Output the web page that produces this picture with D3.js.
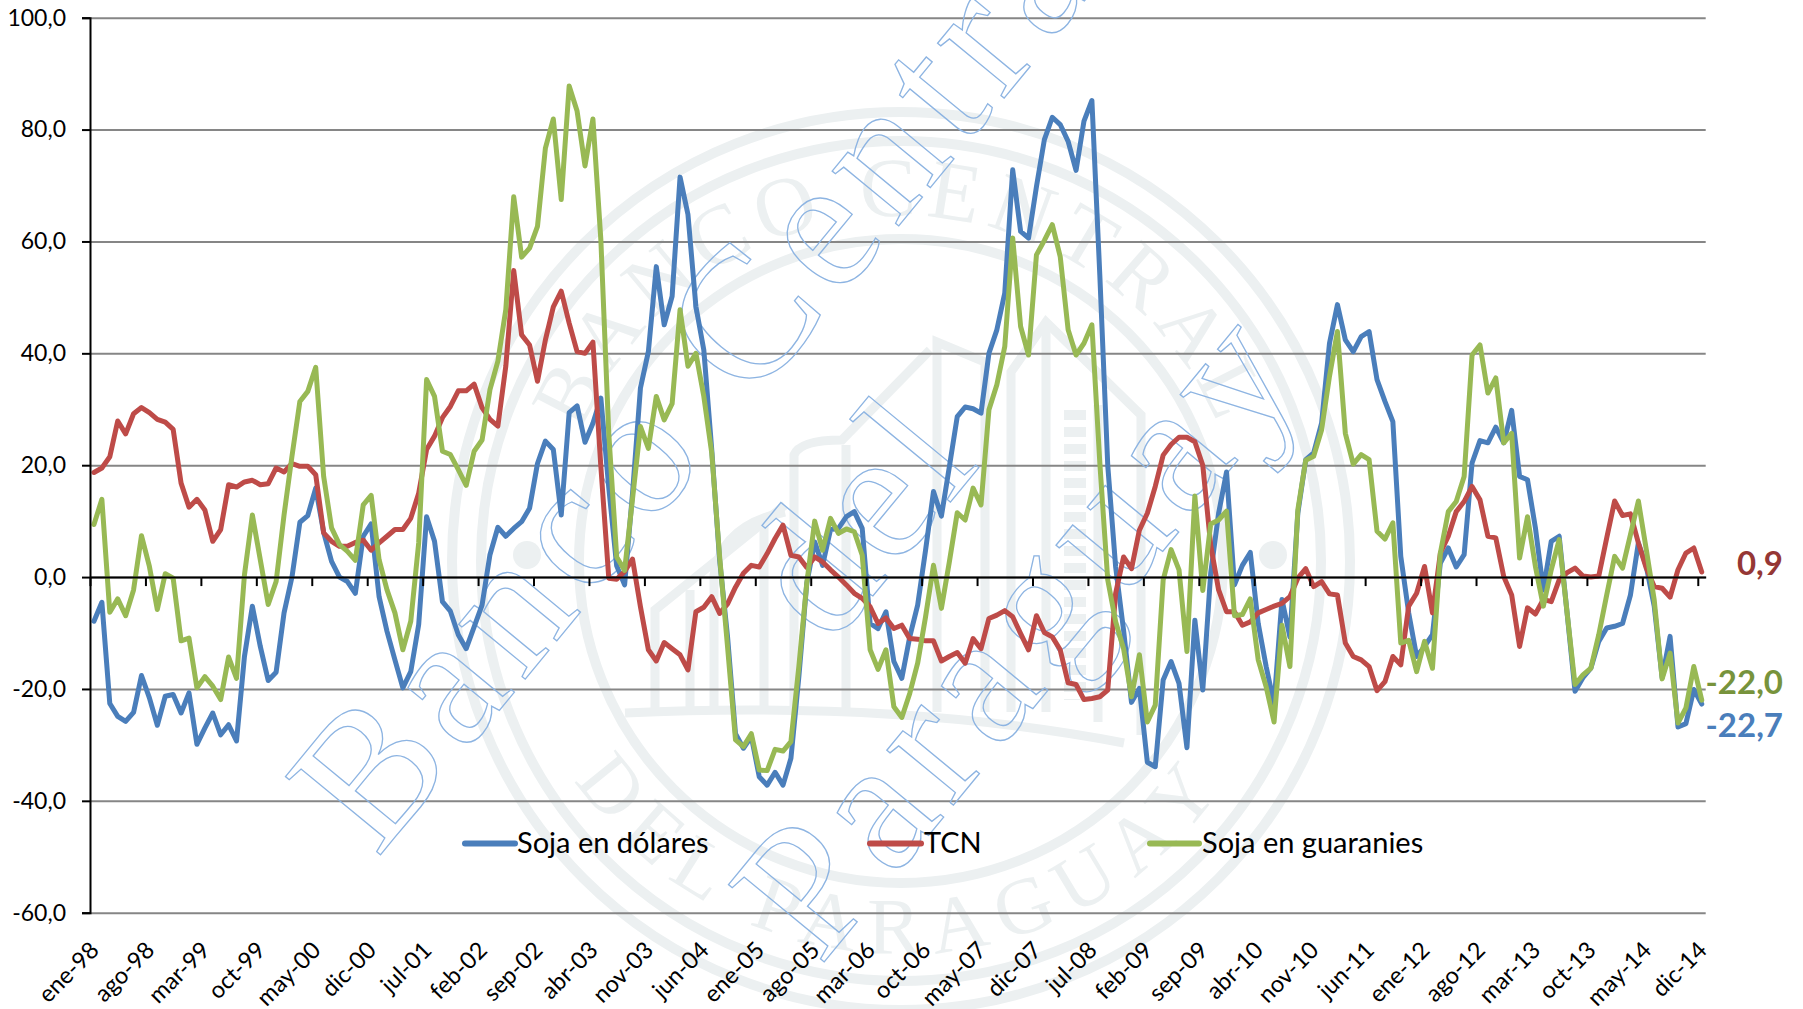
<!DOCTYPE html>
<html>
<head>
<meta charset="utf-8">
<script src="https://cdn.jsdelivr.net/npm/d3@7"></script>
<style>
  html, body { margin: 0; padding: 0; background: #fff; }
  svg { display: block; }
</style>
</head>
<body>
<div id="chart"></div>
<script>
const sojaDolares = [
  -7.9,-4.5,-22.6,-24.9,-25.8,-24.2,-17.6,-21.6,-26.5,-21.3,
  -21.0,-24.3,-20.7,-29.9,-27.0,-24.3,-28.2,-26.4,-29.3,-14.2,
  -5.2,-12.4,-18.5,-17.0,-6.4,0.0,9.8,11.0,15.9,8.0,
  2.8,0.0,-0.8,-2.9,7.3,9.5,-3.5,-9.7,-14.8,-19.8,
  -16.9,-8.5,10.8,6.4,-4.4,-6.1,-10.3,-12.8,-8.9,-5.0,
  4.0,8.9,7.3,8.7,9.9,12.3,20.3,24.3,22.8,11.1,
  29.4,30.6,24.1,27.5,32.0,16.0,2.0,-1.4,15.0,33.8,
  40.3,55.5,45.1,50.2,71.5,64.8,48.4,40.6,22.8,3.0,
  -10.7,-28.0,-30.6,-28.5,-35.7,-37.2,-34.9,-37.2,-32.4,-17.8,
  -1.1,6.3,2.1,8.5,8.7,10.8,11.7,8.7,-8.3,-9.2,
  -6.2,-15.1,-18.1,-10.7,-5.0,4.8,15.3,10.9,19.7,28.7,
  30.4,30.1,29.3,40.0,44.2,50.8,72.8,61.8,60.6,69.8,
  78.2,82.2,80.9,77.9,72.7,81.5,85.2,54.0,20.0,1.8,
  -9.5,-22.4,-19.9,-33.1,-33.9,-18.4,-15.1,-19.0,-30.5,-7.7,
  -20.2,0.7,11.4,18.8,-1.4,2.1,4.4,-8.3,-16.0,-22.6,
  -4.0,-10.7,11.4,21.0,22.2,27.5,41.8,48.7,42.4,40.3,
  43.0,43.9,35.3,31.4,27.8,3.7,-6.4,-14.2,-12.4,-10.3,
  2.5,5.2,1.8,4.0,20.4,24.4,24.0,26.8,24.0,29.8,
  18.0,17.4,8.8,-2.3,6.4,7.3,-6.4,-20.4,-18.0,-16.3,
  -11.5,-9.1,-8.8,-8.3,-3.2,6.1,1.9,-5.2,-18.0,-10.6,
  -26.8,-26.2,-20.1,-22.7
];

const tcn = [
  18.7,19.5,21.5,27.9,25.6,29.2,30.3,29.4,28.2,27.7,
  26.4,16.8,12.5,13.9,12.0,6.4,8.5,16.5,16.1,17.0,
  17.3,16.5,16.7,19.5,18.8,20.3,19.8,19.8,18.3,7.9,
  6.4,5.5,5.5,6.2,6.6,4.8,6.1,7.3,8.5,8.5,
  10.5,15.0,22.8,25.2,28.5,30.5,33.3,33.3,34.5,30.3,
  28.2,27.0,37.7,54.8,43.3,41.5,35.0,42.4,48.3,51.1,
  45.4,40.3,40.0,42.0,19.8,-0.2,-0.4,1.0,3.2,-5.3,
  -13.0,-15.0,-11.7,-12.8,-13.9,-16.6,-6.2,-5.4,-3.5,-6.5,
  -4.8,-1.8,0.7,2.1,1.8,4.2,6.9,9.3,3.9,3.6,
  1.7,3.6,2.7,1.3,0.0,-1.4,-2.9,-3.8,-5.3,-8.3,
  -7.3,-9.2,-8.6,-11.0,-11.1,-11.4,-11.4,-15.0,-14.2,-13.5,
  -15.4,-11.0,-12.8,-7.4,-6.8,-6.0,-7.1,-10.1,-13.0,-6.9,
  -9.9,-10.7,-13.0,-18.9,-19.2,-21.9,-21.7,-21.4,-20.2,-2.9,
  3.6,1.5,8.4,11.4,16.2,21.8,23.7,25.0,25.0,24.2,
  20.0,5.7,-2.3,-6.2,-6.2,-8.6,-8.0,-6.4,-5.8,-5.2,
  -4.7,-3.5,-0.2,1.5,-1.7,-0.8,-3.0,-3.2,-11.8,-14.2,
  -14.8,-16.0,-20.3,-18.7,-14.2,-15.7,-5.2,-2.9,1.9,-6.4,
  4.3,7.3,11.7,13.5,16.2,13.8,7.3,7.0,0.1,-3.2,
  -12.4,-5.5,-6.6,-4.0,-4.4,-0.5,0.8,1.6,0.2,0.0,
  0.2,7.0,13.6,11.0,11.3,6.1,1.6,-1.7,-2.0,-3.6,
  1.3,4.3,5.2,0.9
];

const sojaGuaranies = [
  9.4,13.9,-6.3,-3.9,-6.9,-2.3,7.4,1.9,-5.8,0.6,
  -0.2,-11.4,-10.9,-19.8,-17.8,-19.5,-21.9,-14.3,-18.1,0.4,
  11.1,3.1,-4.9,-0.8,11.1,21.6,31.4,33.2,37.5,18.0,
  8.8,5.8,4.6,3.0,12.9,14.6,3.1,-2.3,-6.4,-13.0,
  -7.9,6.1,35.3,32.3,22.5,21.9,19.2,16.4,22.5,24.5,
  33.5,38.6,47.8,68.0,57.2,58.8,62.7,76.7,81.9,67.5,
  87.8,83.3,73.5,81.9,60.3,25.7,3.6,1.2,14.0,26.9,
  23.0,32.3,28.1,31.0,47.8,37.7,40.0,32.3,22.2,3.6,
  -12.5,-29.1,-30.3,-28.0,-34.5,-34.6,-30.8,-31.1,-29.4,-16.0,
  -1.1,10.0,4.8,10.5,7.8,8.6,8.1,3.9,-13.0,-16.5,
  -13.0,-23.2,-25.1,-20.8,-15.4,-7.1,2.1,-5.6,2.7,11.5,
  10.2,15.9,12.9,29.9,34.4,41.2,60.6,44.8,39.7,57.6,
  60.2,63.0,57.3,44.2,39.7,41.8,45.1,20.4,-0.5,-8.0,
  -12.8,-21.4,-13.9,-25.9,-22.9,-0.5,4.9,1.3,-13.3,14.5,
  -2.4,9.5,10.2,11.8,-6.9,-6.7,-3.9,-14.8,-19.6,-25.9,
  -8.6,-16.0,12.0,20.9,21.6,26.3,35.9,43.9,25.7,20.2,
  21.9,21.0,8.2,6.8,9.7,-11.8,-11.3,-16.9,-11.5,-16.3,
  4.3,11.7,13.5,18.0,39.7,41.5,32.9,35.6,24.0,25.7,
  3.4,10.8,1.9,-5.2,1.3,6.7,-6.4,-19.2,-17.5,-16.3,
  -10.3,-3.2,3.7,1.6,7.6,13.6,4.9,-4.1,-18.2,-13.6,
  -26.1,-23.4,-16.0,-22.0
];

// One label every 7 months
const tickLabels = [
  'ene-98','ago-98','mar-99','oct-99','may-00','dic-00','jul-01','feb-02','sep-02','abr-03',
  'nov-03','jun-04','ene-05','ago-05','mar-06','oct-06','may-07','dic-07','jul-08','feb-09',
  'sep-09','abr-10','nov-10','jun-11','ene-12','ago-12','mar-13','oct-13','may-14','dic-14'
];
const yTicks = [-60, -40, -20, 0, 20, 40, 60, 80, 100];

const seriesNames = ['Soja en dólares', 'TCN', 'Soja en guaranies'];
const seriesColors = ['#4a7ebb', '#be4b48', '#98b954'];
const endLabels = ['-22,7', '0,9', '-22,0'];
const endColors = ['#4a7ebb', '#953735', '#77933c'];

const font = 'Lato, "Open Sans", sans-serif';
const width = 1803;
const height = 1009;
const margin = { top: 17.7, right: 97.3, bottom: 96.3, left: 90 };

const svg = d3.select('#chart')
  .append('svg')
  .attr('width', width)
  .attr('height', height)
  .style('background', '#fff');

// x runs over month slots, a point sits in the middle of its slot
const xScale = d3.scaleLinear()
  .domain([0, sojaDolares.length])
  .range([margin.left, width - margin.right]);

const yScale = d3.scaleLinear()
  .domain([-60, 100])
  .range([height - margin.bottom, margin.top]);

// Seal watermark behind the chart
const sealX = 901, sealY = 561;
const sealColor = '#ecf0f1';
const seal = svg.append('g').attr('fill', 'none').attr('stroke', sealColor);

[[449, 10], [420, 10], [322, 10]].forEach(d => {
  seal.append('circle')
    .attr('cx', sealX).attr('cy', sealY)
    .attr('r', d[0]).attr('stroke-width', d[1]);
});

[
  'M655,712 V610 L785,505',
  'M714,712 V575 Q722,525 785,512',
  'M794,712 V455 Q800,440 842,440 L930,350',
  'M846,712 V445',
  'M937,712 V342 L985,362 V712',
  'M1011,712 V372 L1046,322 L1141,415 V735',
  'M1046,712 V322',
  'M1098,722 V405',
  'M764,712 V520',
  'M690,712 V590',
  'M625,713 Q900,700 1124,743'
].forEach(d => {
  seal.append('path').attr('d', d).attr('stroke-width', 9);
});

seal.append('path')
  .attr('d', 'M1075,410 V700')
  .attr('stroke-width', 22)
  .attr('stroke-dasharray', '10 7');

[[527, 555], [1273, 555]].forEach(d => {
  svg.append('circle')
    .attr('cx', d[0]).attr('cy', d[1]).attr('r', 14)
    .attr('fill', sealColor);
});

const defs = svg.append('defs');
defs.append('path').attr('id', 'arcTop')
  .attr('d', `M${sealX - 345},${sealY} A345,345 0 0 1 ${sealX + 345},${sealY}`);
defs.append('path').attr('id', 'arcBottom')
  .attr('d', `M${sealX - 393},${sealY} A393,393 0 0 0 ${sealX + 393},${sealY}`);

[['#arcTop', 'BANCO CENTRAL', 84, 9], ['#arcBottom', 'DEL PARAGUAY', 80, 14]].forEach(d => {
  svg.append('text')
    .attr('font-family', '"Liberation Serif", serif')
    .attr('font-size', d[2])
    .attr('letter-spacing', d[3])
    .attr('fill', sealColor)
    .append('textPath')
    .attr('href', d[0])
    .attr('startOffset', '50%')
    .attr('text-anchor', 'middle')
    .text(d[1]);
});

// Gridlines
const grid = svg.append('g')
  .attr('transform', `translate(${margin.left},0)`)
  .call(d3.axisLeft(yScale)
    .tickValues(yTicks)
    .tickSize(-(width - margin.left - margin.right))
    .tickFormat(''));
grid.select('.domain').remove();
grid.selectAll('line').attr('stroke', '#868686').attr('stroke-width', 2);

// Outlined diagonal watermark text
[
  ['Banco Central', 377, 859, 10],
  ['del', 830, 648, 4],
  ['Paraguay', 820, 967, 9]
].forEach(d => {
  svg.append('text')
    .attr('transform', `translate(${d[1]},${d[2]}) rotate(-50.5)`)
    .attr('font-family', '"Liberation Serif", serif')
    .attr('font-size', 188)
    .attr('letter-spacing', d[3])
    .attr('fill', 'none')
    .attr('stroke', '#8db4e2')
    .attr('stroke-width', 1.3)
    .text(d[0]);
});

// Draw lines
const line = d3.line()
  .x((d, i) => xScale(i + 0.5))
  .y(d => yScale(d));

[sojaDolares, tcn, sojaGuaranies].forEach((values, s) => {
  svg.append('path')
    .datum(values)
    .attr('fill', 'none')
    .attr('stroke', seriesColors[s])
    .attr('stroke-width', 5)
    .attr('stroke-linejoin', 'round')
    .attr('stroke-linecap', 'round')
    .attr('d', line);
});

// Add axes
const yAxis = svg.append('g')
  .attr('transform', `translate(${margin.left},0)`)
  .call(d3.axisLeft(yScale)
    .tickValues(yTicks)
    .tickSize(8)
    .tickPadding(16)
    .tickFormat(d => d3.format('.1f')(d).replace('.', ',').replace('−', '-')));
yAxis.select('.domain').attr('stroke', '#000').attr('stroke-width', 2);
yAxis.selectAll('line').attr('stroke', '#000').attr('stroke-width', 2);
yAxis.selectAll('text')
  .attr('font-family', font)
  .attr('font-size', 23)
  .attr('fill', '#000');

const xAxis = svg.append('g')
  .attr('transform', `translate(0,${yScale(0)})`)
  .call(d3.axisBottom(xScale)
    .tickValues(tickLabels.map((d, i) => i * 7))
    .tickSize(9)
    .tickSizeOuter(0)
    .tickFormat((d, i) => tickLabels[i]));
xAxis.select('.domain').attr('stroke', '#000').attr('stroke-width', 2);
xAxis.selectAll('line').attr('stroke', '#000').attr('stroke-width', 2);
xAxis.selectAll('text')
  .attr('font-family', font)
  .attr('font-size', 23.5)
  .attr('fill', '#000')
  .attr('text-anchor', 'end')
  .attr('dy', 0)
  .attr('y', 0)
  .attr('transform', `translate(10,${yScale(-60) - yScale(0) + 39}) rotate(-45)`);

// Legend
const legendLines = [[465, 515], [870, 921], [1150, 1199]];
const legendText = [517, 924, 1202];
seriesNames.forEach((name, i) => {
  svg.append('line')
    .attr('x1', legendLines[i][0]).attr('x2', legendLines[i][1])
    .attr('y1', 843.5).attr('y2', 843.5)
    .attr('stroke', seriesColors[i])
    .attr('stroke-width', 6)
    .attr('stroke-linecap', 'round');
  svg.append('text')
    .attr('x', legendText[i])
    .attr('y', 853)
    .attr('font-family', font)
    .attr('font-size', 29)
    .attr('fill', '#000')
    .text(name);
});

// Last values at the right edge
const endY = [725, 563, 682];
endLabels.forEach((label, i) => {
  svg.append('text')
    .attr('x', 1783)
    .attr('y', endY[i] + 12)
    .attr('text-anchor', 'end')
    .attr('font-family', font)
    .attr('font-size', 33)
    .attr('font-weight', 700)
    .attr('fill', endColors[i])
    .text(label);
});
</script>
</body>
</html>
